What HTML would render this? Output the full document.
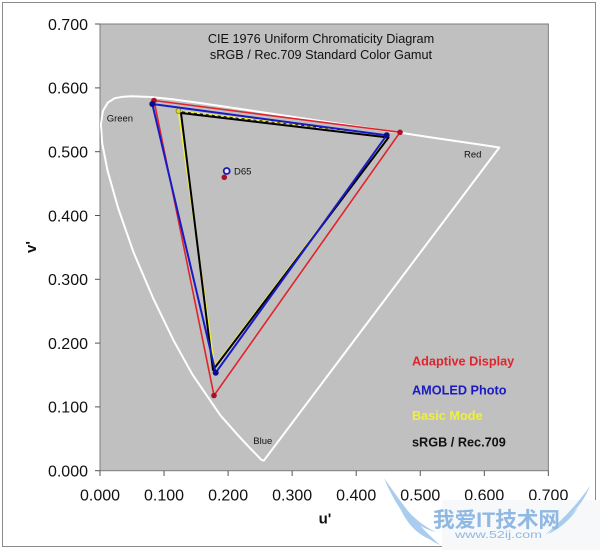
<!DOCTYPE html>
<html><head><meta charset="utf-8"><style>
html,body{margin:0;padding:0;background:#fff;}
svg{display:block;font-family:"Liberation Sans",Arial,sans-serif;}
</style></head><body>
<svg width="600" height="550" viewBox="0 0 600 550" xmlns="http://www.w3.org/2000/svg">
<rect x="0" y="0" width="600" height="550" fill="#fff"/>
<rect x="2.5" y="2.5" width="593" height="544" fill="none" stroke="#8a8a8a" stroke-width="1"/>
<!-- plot area -->
<rect x="100" y="24" width="448.35" height="446.7" fill="#c0c0c0" stroke="#7c7c7c" stroke-width="1"/>
<!-- y ticks -->
<g stroke="#555" stroke-width="1">
<line x1="95" y1="470.7" x2="100" y2="470.7"/>
<line x1="95" y1="406.9" x2="100" y2="406.9"/>
<line x1="95" y1="343.1" x2="100" y2="343.1"/>
<line x1="95" y1="279.3" x2="100" y2="279.3"/>
<line x1="95" y1="215.5" x2="100" y2="215.5"/>
<line x1="95" y1="151.7" x2="100" y2="151.7"/>
<line x1="95" y1="87.9" x2="100" y2="87.9"/>
<line x1="95" y1="24" x2="100" y2="24"/>
<line x1="100" y1="470.7" x2="100" y2="476"/>
<line x1="164.05" y1="470.7" x2="164.05" y2="476"/>
<line x1="228.1" y1="470.7" x2="228.1" y2="476"/>
<line x1="292.15" y1="470.7" x2="292.15" y2="476"/>
<line x1="356.2" y1="470.7" x2="356.2" y2="476"/>
<line x1="420.25" y1="470.7" x2="420.25" y2="476"/>
<line x1="484.3" y1="470.7" x2="484.3" y2="476"/>
<line x1="548.35" y1="470.7" x2="548.35" y2="476"/>
</g>
<g font-size="16" fill="#111" text-anchor="end">
<text x="88" y="476.5">0.000</text>
<text x="88" y="412.7">0.100</text>
<text x="88" y="348.9">0.200</text>
<text x="88" y="285.1">0.300</text>
<text x="88" y="221.3">0.400</text>
<text x="88" y="157.5">0.500</text>
<text x="88" y="93.7">0.600</text>
<text x="88" y="29.8">0.700</text>
</g>
<g font-size="16" fill="#111" text-anchor="middle">
<text x="100" y="500.5">0.000</text>
<text x="164.05" y="500.5">0.100</text>
<text x="228.1" y="500.5">0.200</text>
<text x="292.15" y="500.5">0.300</text>
<text x="356.2" y="500.5">0.400</text>
<text x="420.25" y="500.5">0.500</text>
<text x="484.3" y="500.5">0.600</text>
<text x="548.35" y="500.5">0.700</text>
</g>
<text x="325" y="523.5" font-size="15" font-weight="bold" text-anchor="middle" fill="#111">u'</text>
<text transform="translate(36,247) rotate(-90)" font-size="15" font-weight="bold" text-anchor="middle" fill="#111">v'</text>
<!-- title -->
<g font-size="12.7" fill="#111" text-anchor="middle">
<text x="321" y="43">CIE 1976 Uniform Chromaticity Diagram</text>
<text x="321" y="59">sRGB / Rec.709 Standard Color Gamut</text>
</g>
<!-- spectral locus -->
<polygon fill="none" stroke="#fff" stroke-width="2" stroke-linejoin="round" points="263.8,460.6 261.5,459.9 250.3,448.4 238.4,435.7 220.2,415.1 192.3,374.3 173.5,340.3 153.0,297.9 133.4,252.0 118.1,208.0 107.6,170.9 102.2,143.3 100.9,124.1 102.9,110.9 107.9,102.5 114.8,98.2 123.1,96.7 132.1,96.3 150.7,97.0 172.2,99.3 198.1,102.8 229.8,107.4 268.0,113.1 312.3,119.7 358.4,126.6 400.5,132.8 433.3,137.7 456.4,141.1 484.6,145.3 499.3,147.5"/>
<!-- locus labels -->
<g font-size="9.5" fill="#111">
<text x="106.7" y="121.7">Green</text>
<text x="464" y="157.5">Red</text>
<text x="253.3" y="444">Blue</text>
<text x="234" y="174.3">D65</text>
</g>
<!-- Adaptive Display (red) -->
<polygon fill="none" stroke="#e0242c" stroke-width="1.6" stroke-linejoin="round" points="154,100.5 400,132.3 214,395.5"/>
<!-- Basic mode (yellow) -->
<polygon fill="none" stroke="#f2f23a" stroke-width="1.6" stroke-linejoin="round" points="178.5,111 389.5,135.2 214.5,366.5"/>
<!-- sRGB (black) -->
<polygon fill="none" stroke="#000" stroke-width="2" stroke-linejoin="round" points="181,113 388.5,137.5 213,370"/>
<line x1="182" y1="111.8" x2="386" y2="135" stroke="#000" stroke-width="0.8" stroke-dasharray="3,3"/>
<!-- AMOLED photo (blue) -->
<polygon fill="none" stroke="#1a1ac4" stroke-width="2" stroke-linejoin="round" points="152.3,104 386.7,135.3 215.7,372.7"/>
<!-- markers -->
<g fill="#a8102a">
<circle cx="154" cy="100.5" r="2.8"/>
<circle cx="400" cy="132.3" r="2.8"/>
<circle cx="214" cy="395.5" r="2.8"/>
<circle cx="224.3" cy="177.3" r="2.8"/>
</g>
<g fill="#d8d830" stroke="#6a6a10" stroke-width="0.6">
<circle cx="178.5" cy="111" r="2.5"/>
</g>
<g fill="#0c0c8c">
<circle cx="152.3" cy="104" r="3"/>
<circle cx="386.7" cy="135.3" r="3"/>
<circle cx="215.7" cy="372.7" r="3"/>
</g>
<circle cx="226.7" cy="171" r="3" fill="#e8e8f8" stroke="#1a1ab0" stroke-width="1.8"/>
<!-- legend -->
<g font-size="12.7" font-weight="bold">
<text x="412" y="365.5" fill="#e0242c">Adaptive Display</text>
<text x="412" y="394.5" fill="#1a1ac4">AMOLED Photo</text>
<text x="412" y="420" fill="#f0f03a">Basic Mode</text>
<text x="412" y="446.5" fill="#111">sRGB / Rec.709</text>
</g>
<!-- watermark -->
<rect x="442" y="500" width="158" height="50" fill="#f6f8fa"/>
<g fill="#9cc4ea" opacity="0.85">
<path d="M384,478 C400,500 412,520 440,545 C418,535 398,512 384,478 Z"/>
<path d="M392,492 C405,510 420,525 436,532 C418,528 402,514 392,492 Z"/>
<path d="M400,508 C412,520 424,530 432,540 C420,536 408,526 400,508 Z"/>
<path d="M590,486 C582,506 566,522 545,535 C562,520 576,506 590,486 Z"/>
<path d="M578,508 C570,520 558,530 548,534 C560,524 570,516 578,508 Z"/>
</g>
<text x="433" y="527" font-size="21" font-weight="bold" fill="#8fb8e2" textLength="127" lengthAdjust="spacingAndGlyphs" font-family="'Liberation Sans','Noto Sans CJK SC',sans-serif">我爱IT技术网</text>
<text x="455" y="538" font-size="10" fill="#8fb8e2" textLength="87" lengthAdjust="spacingAndGlyphs">www.52ij.com</text>
</svg>
</body></html>
